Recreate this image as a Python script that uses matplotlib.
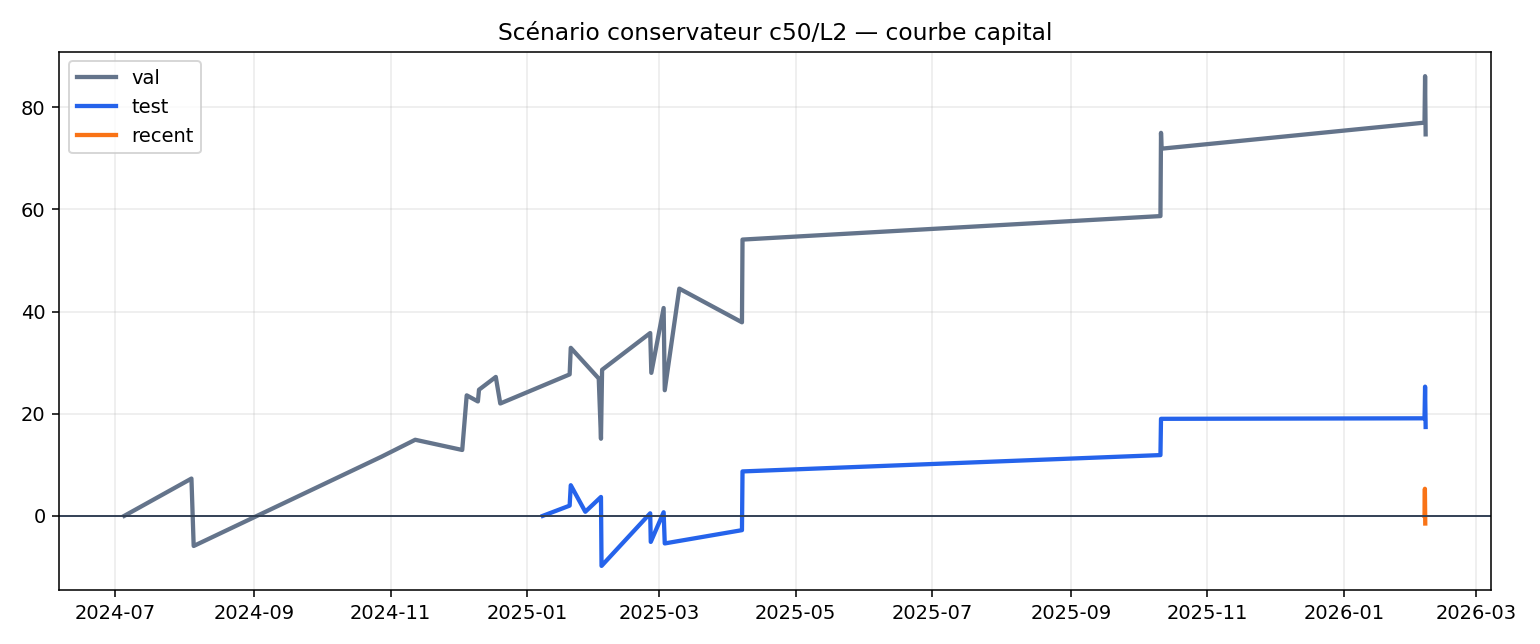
import pandas as pd
import matplotlib.pyplot as plt
import matplotlib.dates as mdates

val_dates = ['2024-07-05', '2024-08-04', '2024-08-05', '2024-10-28', '2024-11-12',
             '2024-12-03', '2024-12-05', '2024-12-10', '2024-12-10 12:00', '2024-12-18',
             '2024-12-20', '2025-01-20', '2025-01-20 12:00', '2025-02-02', '2025-02-03',
             '2025-02-03 12:00', '2025-02-25', '2025-02-25 12:00', '2025-03-03', '2025-03-03 12:00',
             '2025-03-10', '2025-04-07', '2025-04-07 06:00', '2025-10-11', '2025-10-11 06:00',
             '2025-10-11 12:00', '2026-02-06', '2026-02-06 06:00', '2026-02-06 12:00']
val_values = [0, 7.3, -5.9, 11.6, 14.9,
              12.9, 23.6, 22.4, 24.7, 27.2,
              22.0, 27.7, 32.9, 26.9, 15.1,
              28.6, 35.8, 28.0, 40.7, 24.6,
              44.5, 37.9, 54.1, 58.7, 75.0,
              71.9, 77.0, 86.1, 74.7]

test_dates = ['2025-01-08', '2025-01-20', '2025-01-20 12:00', '2025-01-27', '2025-02-03',
              '2025-02-03 06:00', '2025-02-25', '2025-02-25 06:00', '2025-03-03', '2025-03-03 12:00',
              '2025-04-07', '2025-04-07 06:00', '2025-10-11', '2025-10-11 06:00', '2026-02-06',
              '2026-02-06 06:00', '2026-02-06 12:00']
test_values = [0, 2.0, 6.0, 0.8, 3.7,
               -9.8, 0.5, -5.1, 0.7, -5.4,
               -2.8, 8.7, 11.9, 19.0, 19.1,
               25.3, 17.4]

recent_dates = ['2026-02-06', '2026-02-06 04:00', '2026-02-06 08:00']
recent_values = [0, 5.3, -1.5]

fig, ax = plt.subplots(figsize=(11, 4.6), dpi=140)
ax.plot(pd.to_datetime(val_dates, format='mixed'), val_values, color='#64748b', lw=2.2, label='val')
ax.plot(pd.to_datetime(test_dates, format='mixed'), test_values, color='#2563eb', lw=2.2, label='test')
ax.plot(pd.to_datetime(recent_dates, format='mixed'), recent_values, color='#f97316', lw=2.2, label='recent')
ax.axhline(0, color='#334155', lw=1)

ax.set_title('Scénario conservateur c50/L2 — courbe capital')
ax.xaxis.set_major_locator(mdates.MonthLocator(bymonth=[1, 3, 5, 7, 9, 11]))
ax.xaxis.set_major_formatter(mdates.DateFormatter('%Y-%m'))
ax.grid(alpha=0.25)
ax.legend(loc='upper left')
fig.tight_layout()
fig.savefig('out.png')
